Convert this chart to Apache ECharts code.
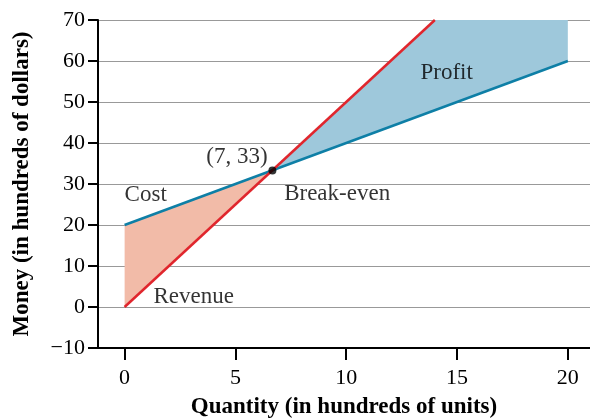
<!DOCTYPE html>
<html>
<head>
<meta charset="utf-8">
<script src="https://cdn.jsdelivr.net/npm/echarts@6/dist/echarts.min.js"></script>
<style>html,body{margin:0;padding:0;background:#fff}#c{width:590px;height:418px}</style>
</head>
<body>
<div id="c"></div>
<script>
// Data
const quantityTicks = [0, 5, 10, 15, 20];
const costLine = [[0, 20], [20, 60]];
const revenueLine = [[0, 0], [14, 70]];
const breakEven = [[6.67, 33.3]];
const lossRegion = [[0, 20], [6.67, 33.3], [0, 0]];
const profitRegion = [[6.67, 33.3], [14, 70], [20, 70], [20, 60]];
const annotations = [
  { text: 'Cost', at: [0.0, 27.3], side: 'right' },
  { text: 'Revenue', at: [1.3, 2.4], side: 'right' },
  { text: '(7, 33)', at: [6.45, 36.6], side: 'left' },
  { text: 'Break-even', at: [7.2, 27.6], side: 'right' },
  { text: 'Profit', at: [13.35, 57.1], side: 'right' }
];

const FONT = 'Liberation Serif';
const chart = echarts.init(document.getElementById('c'), null, { renderer: 'canvas' });

function polygonSeries(points, color) {
  return {
    type: 'custom',
    data: [[0, 0]],
    silent: true,
    z: 1,
    renderItem: function (params, api) {
      return {
        type: 'polygon',
        shape: { points: points.map(function (p) { return api.coord(p); }) },
        style: { fill: color }
      };
    }
  };
}

chart.setOption({
  animation: false,
  grid: { left: 98, top: 20, right: 0, bottom: 70, containLabel: false, outerBoundsMode: 'none' },
  xAxis: {
    type: 'value', min: -1.2, max: 21,
    name: 'Quantity (in hundreds of units)',
    nameLocation: 'middle', nameGap: 48,
    nameTextStyle: { fontFamily: FONT, fontWeight: 'bold', fontSize: 23, color: '#000' },
    axisLine: { onZero: false, lineStyle: { color: '#000', width: 2 } },
    axisTick: { show: true, length: 12, inside: false, customValues: quantityTicks, lineStyle: { color: '#000', width: 2 } },
    axisLabel: { customValues: quantityTicks, margin: 19, fontFamily: FONT, fontSize: 22, color: '#000' },
    splitLine: { show: false }
  },
  yAxis: {
    type: 'value', min: -10, max: 70, interval: 10,
    name: 'Money (in hundreds of dollars)',
    nameLocation: 'middle', nameGap: 64, nameRotate: 90,
    nameTextStyle: { fontFamily: FONT, fontWeight: 'bold', fontSize: 23, color: '#000' },
    axisLine: { show: true, onZero: false, lineStyle: { color: '#000', width: 2 } },
    axisTick: { show: true, length: 10, lineStyle: { color: '#000', width: 2 } },
    axisLabel: { margin: 13, fontFamily: FONT, fontSize: 22, color: '#000',
      formatter: function (v) { return v < 0 ? '\u2212' + Math.abs(v) : String(v); } },
    splitLine: { show: true, lineStyle: { color: '#999', width: 1 } }
  },
  series: [
    polygonSeries(lossRegion, '#f2bba8'),
    polygonSeries(profitRegion, '#9ec8db'),
    { type: 'line', data: costLine, symbol: 'none', z: 3,
      lineStyle: { color: '#0e7fa6', width: 2.5 } },
    { type: 'line', data: revenueLine, symbol: 'none', z: 3,
      lineStyle: { color: '#e0262d', width: 2.5 } },
    { type: 'scatter', data: breakEven, symbol: 'circle', symbolSize: 8, z: 5,
      itemStyle: { color: '#000' } },
    { type: 'scatter', symbolSize: 0, z: 6, silent: true,
      data: annotations.map(function (a) {
        return { value: a.at, label: { show: true, formatter: a.text, position: a.side, distance: 0 } };
      }),
      label: { fontFamily: FONT, fontSize: 23, color: '#000' } }
  ]
});
</script>
</body>
</html>
